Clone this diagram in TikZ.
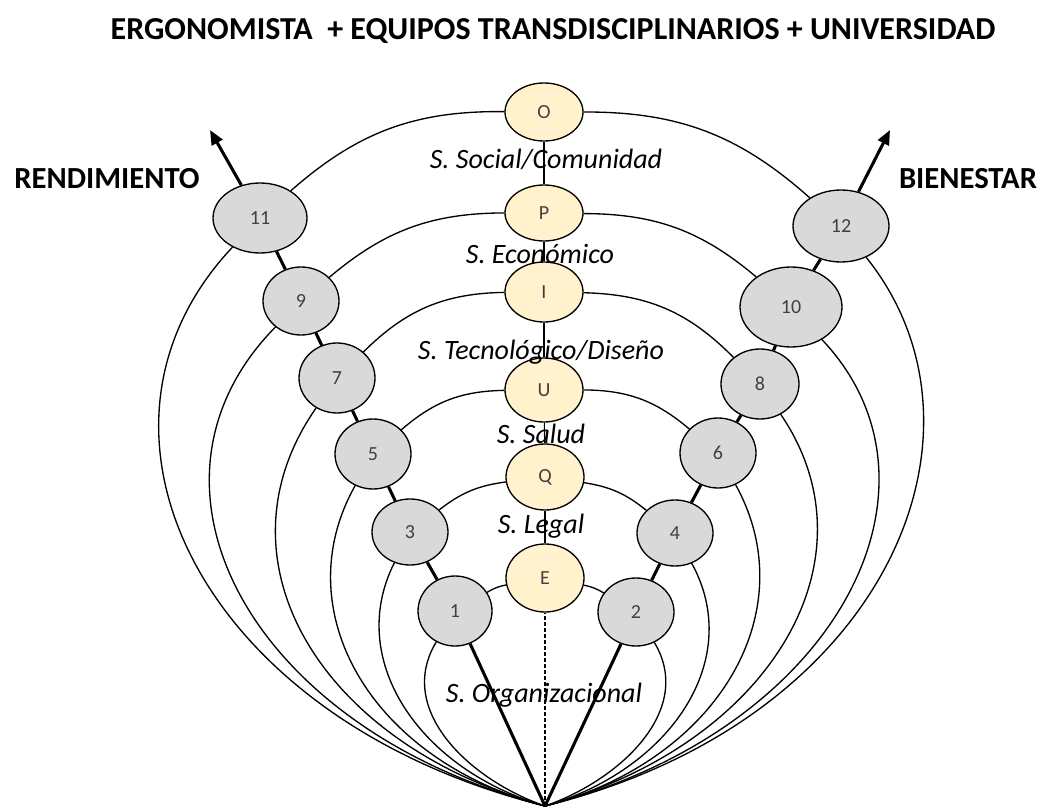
\documentclass[tikz,border=0pt]{standalone}
\usepackage{fontspec}
\setmainfont{Carlito}
\usetikzlibrary{arrows.meta,shapes.geometric}
\definecolor{gfill}{HTML}{D9D9D9}
\definecolor{yfill}{HTML}{FFF2CC}
\definecolor{ntext}{HTML}{404040}
\begin{document}
\begin{tikzpicture}[x=0.75pt,y=-0.75pt,
  gnode/.style={ellipse, draw=black, line width=1pt, fill=gfill, inner sep=0pt,
    font=\fontsize{15}{15}\selectfont, text=ntext},
  ynode/.style={gnode, fill=yfill},
  arcline/.style={line width=1pt},
  axisline/.style={line width=2.3pt},
  lbl/.style={font=\fontsize{21}{21}\selectfont\itshape, anchor=base, inner sep=0pt},
  head/.style={font=\fontsize{23}{23}\selectfont\bfseries, anchor=base, inner sep=0pt}]
\useasboundingbox (0,0) rectangle (1042,809);

% yellow nodes
\node[ynode, minimum width=58.5pt, minimum height=43.5pt] (O) at (544,112) {O};
\node[ynode, minimum width=58.5pt, minimum height=42pt] (P) at (544,213) {P};
\node[ynode, minimum width=58.5pt, minimum height=45pt] (I) at (544,292) {I};
\node[ynode, minimum width=58.5pt, minimum height=48pt] (U) at (544,390) {U};
\node[ynode, minimum width=58.5pt, minimum height=49.5pt] (Q) at (545,477) {Q};
\node[ynode, minimum width=58.5pt, minimum height=51pt] (E) at (545,578) {E};

% gray nodes
\node[gnode, minimum width=70.5pt, minimum height=52.5pt] (n11) at (260,218) {11};
\node[gnode, minimum width=72pt, minimum height=54pt] (n12) at (841,226) {12};
\node[gnode, minimum width=57pt, minimum height=51pt] (n9) at (301,301) {9};
\node[gnode, minimum width=76.5pt, minimum height=60pt] (n10) at (791,307) {10};
\node[gnode, minimum width=57pt, minimum height=52.5pt] (n7) at (337,378) {7};
\node[gnode, minimum width=58.5pt, minimum height=52.5pt] (n8) at (760,384) {8};
\node[gnode, minimum width=57pt, minimum height=52.5pt] (n5) at (373,454) {5};
\node[gnode, minimum width=57pt, minimum height=52.5pt] (n6) at (718,453) {6};
\node[gnode, minimum width=57pt, minimum height=49.5pt] (n3) at (410,532) {3};
\node[gnode, minimum width=57pt, minimum height=49.5pt] (n4) at (675,533) {4};
\node[gnode, minimum width=55.5pt, minimum height=52.5pt] (n1) at (455,611) {1};
\node[gnode, minimum width=57pt, minimum height=51pt] (n2) at (636,612) {2};

\coordinate (A) at (545,806);
\coordinate (tipL) at (210,130);
\coordinate (tipR) at (890,130);

% lower arcs, left
\draw[arcline] (A) .. controls (200,720) and (60,430) .. (n11);
\draw[arcline] (A) .. controls (250,730) and (120,485) .. (n9);
\draw[arcline] (A) .. controls (320,745) and (210,560) .. (n7);
\draw[arcline] (A) .. controls (370,760) and (285,610) .. (n5);
\draw[arcline] (A) .. controls (420,770) and (345,660) .. (n3);
\draw[arcline] (A) .. controls (470,780) and (395,710) .. (n1);
% lower arcs, right
\draw[arcline] (A) .. controls (890,720) and (1005,430) .. (n12);
\draw[arcline] (A) .. controls (840,730) and (960,485) .. (n10);
\draw[arcline] (A) .. controls (770,745) and (880,560) .. (n8);
\draw[arcline] (A) .. controls (720,760) and (805,610) .. (n6);
\draw[arcline] (A) .. controls (670,770) and (745,660) .. (n4);
\draw[arcline] (A) .. controls (620,780) and (695,710) .. (n2);

% upper arcs
\draw[arcline] (n11) to[bend left=21] (O);
\draw[arcline] (O) to[bend left=21] (n12);
\draw[arcline] (n9) to[bend left=20] (P);
\draw[arcline] (P) to[bend left=20] (n10);
\draw[arcline] (n7) to[bend left=22] (I);
\draw[arcline] (I) to[bend left=22] (n8);
\draw[arcline] (n5) to[bend left=20] (U);
\draw[arcline] (U) to[bend left=20] (n6);
\draw[arcline] (n3) to[bend left=15] (Q);
\draw[arcline] (Q) to[bend left=15] (n4);
\draw[arcline] (n1) to[bend left=10] (E);
\draw[arcline] (E) to[bend left=10] (n2);

% vertical axis
\draw[line width=0.8pt, dash pattern=on 3pt off 1.5pt] (A) -- (E);
\draw[line width=0.8pt] (E) -- (Q);
\draw[line width=0.8pt] (Q) -- (U);
\draw[line width=0.8pt] (U) -- (I);
\draw[line width=0.8pt] (I) -- (P);
\draw[line width=0.8pt] (P) -- (O);

% thick lines
\draw[axisline] (A) -- (n1);
\draw[axisline] (n1) -- (n3);
\draw[axisline] (n3) -- (n5);
\draw[axisline] (n5) -- (n7);
\draw[axisline] (n7) -- (n9);
\draw[axisline] (n9) -- (n11);
\draw[axisline, -{Triangle[length=11pt,width=9pt]}] (n11) -- (tipL);
\draw[axisline] (A) -- (n2);
\draw[axisline] (n2) -- (n4);
\draw[axisline] (n4) -- (n6);
\draw[axisline] (n6) -- (n8);
\draw[axisline] (n8) -- (n10);
\draw[axisline] (n10) -- (n12);
\draw[axisline, -{Triangle[length=11pt,width=9pt]}] (n12) -- (tipR);

% labels
\node[head, font=\fontsize{24}{24}\selectfont\bfseries] (title) at (553,40) {ERGONOMISTA\ \ + EQUIPOS TRANSDISCIPLINARIOS + UNIVERSIDAD};
\node[head] (rend) at (107,189) {RENDIMIENTO};
\node[head] (bien) at (968,189) {BIENESTAR};
\node[lbl] (sSoc) at (546,169) {S. Social/Comunidad};
\node[lbl] (sEco) at (540,264) {S. Económico};
\node[lbl] (sTec) at (541,359) {S. Tecnológico/Diseño};
\node[lbl] (sSal) at (541,443) {S. Salud};
\node[lbl] (sLeg) at (541,533) {S. Legal};
\node[lbl] (sOrg) at (544,702) {S. Organizacional};
\end{tikzpicture}
\end{document}
